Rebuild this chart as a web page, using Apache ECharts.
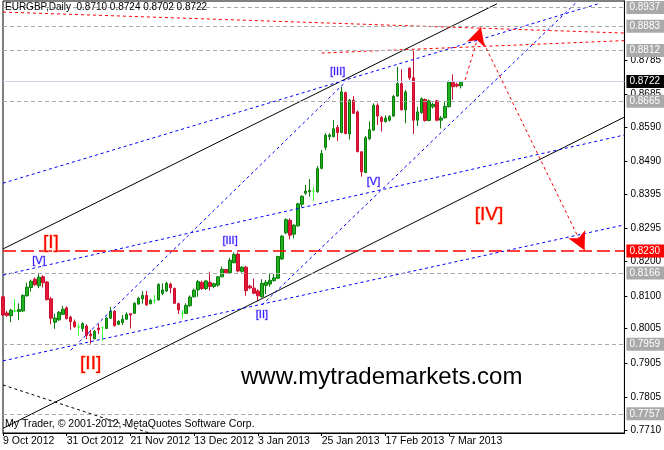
<!DOCTYPE html>
<html><head><meta charset="utf-8">
<script src="https://cdn.jsdelivr.net/npm/echarts@6/dist/echarts.min.js"></script>
<style>html,body{margin:0;padding:0;background:#fff}#c{width:664px;height:450px}</style>
</head><body><div id="c"></div>
<script>
const titleText = 'EURGBP,Daily  0.8710 0.8724 0.8702 0.8722';
const watermark = 'www.mytrademarkets.com';
const copyright = 'My Trader, \u00a9 2001-2012, MetaQuotes Software Corp.';
const tickLabels = ['9 Oct 2012','31 Oct 2012','21 Nov 2012','13 Dec 2012','3 Jan 2013','25 Jan 2013','17 Feb 2013','7 Mar 2013'];
const barsPerLabel = 16;
const slotCount = 157;

const opens = [.8097,.8050,.8042,.8056,.8054,.8056,.8100,.8124,.8148,.8129,.8155,.8140,.8091,.8023,.8030,.8046,.8065,.8038,.8024,.8009,
.8005,.8012,.7989,.7975,.8006,.8007,.8005,.8035,.8055,.8017,.8022,.8032,.8048,.8049,.8076,.8091,.8101,.8077,.8086,.8088,
.8107,.8114,.8134,.8121,.8077,.8049,.8049,.8071,.8097,.8117,.8139,.8121,.8139,.8127,.8131,.8155,.8176,.8167,.8196,.8221,
.8171,.8183,.8128,.8122,.8114,.8097,.8130,.8134,.8144,.8151,.8207,.8283,.8319,.8279,.8303,.8366,.8398,.8402,.8404,.8402,
.8470,.8531,.8562,.8562,.8589,.8574,.8690,.8570,.8668,.8634,.8518,.8458,.8556,.8581,.8653,.8618,.8606,.8610,.8622,.8680,
.8716,.8640,.8761,.8733,.8610,.8632,.8670,.8609,.8649,.8666,.8610,.8617,.8649,.8720,.8714,.8710];
const highs = [.8099,.8056,.8062,.8090,.8078,.8104,.8138,.8147,.8153,.8166,.8160,.8143,.8097,.8048,.8056,.8071,.8069,.8042,.8031,.8019,
.8023,.8017,.8001,.8001,.8018,.8010,.8039,.8068,.8058,.8029,.8044,.8052,.8049,.8081,.8097,.8114,.8114,.8091,.8102,.8136,
.8136,.8141,.8138,.8124,.8080,.8059,.8078,.8101,.8121,.8146,.8144,.8146,.8170,.8138,.8157,.8185,.8178,.8210,.8226,.8226,
.8185,.8187,.8132,.8150,.8119,.8148,.8146,.8163,.8163,.8216,.8276,.8325,.8325,.8308,.8370,.8392,.8422,.8439,.8417,.8477,
.8523,.8572,.8572,.8610,.8596,.8707,.8693,.8672,.8680,.8638,.8520,.8564,.8606,.8659,.8659,.8622,.8624,.8624,.8683,.8765,
.8758,.8698,.8763,.8812,.8649,.8676,.8673,.8670,.8661,.8669,.8622,.8664,.8725,.8743,.8719,.8724];
const lows = [.8041,.8039,.8023,.8052,.8029,.8053,.8097,.8112,.8129,.8122,.8124,.8086,.8017,.8004,.8027,.8044,.8031,.8001,.8007,.7984,
.7996,.7974,.7961,.7973,.7989,.7969,.8004,.8033,.8011,.8015,.8015,.8030,.8005,.8047,.8074,.8077,.8071,.8075,.8078,.8086,
.8102,.8111,.8107,.8076,.8047,.8034,.8047,.8068,.8095,.8097,.8117,.8117,.8115,.8122,.8126,.8154,.8165,.8165,.8194,.8168,
.8167,.8100,.8119,.8105,.8084,.8095,.8105,.8126,.8141,.8149,.8204,.8279,.8264,.8267,.8301,.8357,.8393,.8388,.8375,.8399,
.8467,.8523,.8552,.8560,.8550,.8572,.8569,.8554,.8628,.8516,.8446,.8456,.8552,.8579,.8596,.8577,.8603,.8606,.8620,.8678,
.8638,.8601,.8727,.8570,.8593,.8628,.8606,.8607,.8644,.8607,.8586,.8615,.8647,.8670,.8705,.8702];
const closes = [.8044,.8043,.8058,.8056,.8060,.8101,.8125,.8142,.8132,.8154,.8138,.8089,.8035,.8035,.8052,.8061,.8034,.8025,.8010,.8009,
.8019,.7985,.7984,.7997,.8001,.8007,.8035,.8055,.8013,.8026,.8032,.8046,.8044,.8078,.8093,.8101,.8073,.8087,.8086,.8133,
.8117,.8136,.8123,.8078,.8059,.8049,.8072,.8096,.8116,.8141,.8121,.8143,.8127,.8135,.8155,.8177,.8167,.8203,.8220,.8172,
.8183,.8115,.8123,.8107,.8100,.8136,.8139,.8145,.8152,.8214,.8273,.8321,.8276,.8305,.8367,.8389,.8404,.8406,.8404,.8469,
.8513,.8566,.8567,.8585,.8574,.8692,.8571,.8668,.8630,.8519,.8460,.8559,.8582,.8653,.8622,.8606,.8616,.8621,.8679,.8716,
.8640,.8692,.8733,.8610,.8634,.8672,.8609,.8666,.8656,.8610,.8616,.8650,.8721,.8707,.8709,.8722];

const yTickValues = [0.8785,0.8685,0.8590,0.8490,0.8395,0.8295,0.8200,0.8100,0.8005,0.7905,0.7805,0.7710];
const grayLevels = [0.8937,0.8883,0.8812,0.8665,0.8166,0.7959,0.7757];
const redLevel = 0.8230;
const bidLevel = 0.8722;
const yMin = 0.77014, yMax = 0.89561;

// trend lines: [barIndex, price] endpoints
const blackSolidLines = [[[0,0.8236],[124,0.8948]], [[0,0.7715],[156,0.8619]]];
const blackDashedLines = [[[0,0.7841],[40,0.7689]]];
const blueDashedLines = [
  [[0,0.8427],[150,0.8950]],
  [[0,0.8160],[156,0.8567]],
  [[0,0.7911],[156,0.8306]],
  [[17,0.7942],[86,0.8721]],
  [[65,0.8073],[144,0.8953]]
];
const redDottedLines = [[[0,0.8924],[156,0.8863]], [[80,0.8805],[156,0.8841]]];
const arrowLegs = [[[116,0.8727],[120,0.8880]], [[120,0.8850],[146,0.8232]]];

const redWaveLabels = [['[I]',12,0.8253],['[II]',22,0.7902],['[IV]',122,0.8335]];
const blueWaveLabels = [['[V]',9,0.8201],['[III]',57,0.8260],['[II]',65,0.8044],['[V]',93,0.8430],['[III]',84,0.8750]];

const FONT = 'Liberation Sans';
const categories = Array.from({length: slotCount}, (_, i) => String(i));
const candleData = opens.map((o, i) => [o, closes[i], lows[i], highs[i]]);
const isLabelSlot = i => i % barsPerLabel === 0 && (i / barsPerLabel) < tickLabels.length;

function lineSeries(lines, color, type, width) {
  return lines.map(pts => ({
    type: 'line', data: pts, showSymbol: false, symbol: 'none', silent: true, clip: true,
    lineStyle: {color, type, width}, z: 3, animation: false
  }));
}
function levelLine(v, lineColor, dash, boxColor, w) {
  return {
    yAxis: v,
    lineStyle: {color: lineColor, type: dash, width: w || 1},
    label: {show: true, position: 'end', distance: 2, formatter: () => v.toFixed(4),
      color: '#fff', backgroundColor: boxColor, padding: [2, 4, 1, 3],
      fontFamily: FONT, fontSize: 10}
  };
}
function waveSeries(items, color, size, border) {
  return {
    type: 'scatter', silent: true, symbol: 'circle', symbolSize: 1, itemStyle: {color: 'rgba(0,0,0,0)'}, z: 5, animation: false,
    data: items.map(d => ({name: d[0], value: [d[1], d[2]]})),
    label: {show: true, position: 'inside', formatter: '{b}', color, fontFamily: FONT, fontSize: size,
      textBorderColor: border, textBorderWidth: 1, opacity: 1}
  };
}

const chart = echarts.init(document.getElementById('c'), null, {renderer: 'canvas'});
chart.setOption({
  backgroundColor: '#fff',
  animation: false,
  grid: {left: 3, right: 38, top: 1, bottom: 17, show: true, borderColor: '#000', borderWidth: 1, backgroundColor: 'transparent'},
  xAxis: {
    type: 'category', data: categories, boundaryGap: false,
    axisLine: {show: true, lineStyle: {color: '#000'}},
    axisTick: {show: true, length: 3, interval: i => isLabelSlot(i), lineStyle: {color: '#000'}},
    axisLabel: {interval: i => isLabelSlot(i), formatter: (v, i) => isLabelSlot(i) ? tickLabels[i / barsPerLabel] : '',
      align: 'left', margin: 3, color: '#000', fontFamily: FONT, fontSize: 10.5},
    splitLine: {show: false}
  },
  yAxis: {
    type: 'value', position: 'right', min: yMin, max: yMax,
    axisLine: {show: true, lineStyle: {color: '#000'}},
    axisTick: {show: true, length: 3, customValues: yTickValues, lineStyle: {color: '#000'}},
    axisLabel: {customValues: yTickValues, formatter: v => v.toFixed(4), margin: 6, color: '#000', fontFamily: FONT, fontSize: 10},
    splitLine: {show: false}
  },
  graphic: [
    {type: 'text', left: 5, top: 2, style: {text: titleText, fill: '#000', font: '10px "' + FONT + '"'}, z: 10},
    {type: 'text', left: 241, top: 365, style: {text: watermark, fill: '#000', font: '24px "' + FONT + '"'}, z: 10},
    {type: 'text', left: 5, top: 419, style: {text: copyright, fill: '#000', font: '10.5px "' + FONT + '"'}, z: 10}
  ],
  series: [
    {
      type: 'candlestick', data: candleData, barWidth: 3, clip: true, z: 2,
      itemStyle: {color: '#1fb41f', color0: '#e8173a', borderColor: '#0a7a0a', borderColor0: '#c8102e', borderWidth: 1, borderColorDoji: '#33ff33'},
      markLine: {
        silent: true, symbol: ['none', 'none'], animation: false, precision: 6,
        data: grayLevels.map(v => levelLine(v, '#a8a8a8', [4, 3], '#a9a9a9'))
          .concat([levelLine(redLevel, '#ff0000', [13, 5], '#ff0000', 1.5), levelLine(bidLevel, '#d0d0f4', 'solid', '#000')])
      }
    },
    ...lineSeries(blackSolidLines, '#000', 'solid', 1),
    ...lineSeries(blackDashedLines, '#000', [3, 3], 1),
    ...lineSeries(blueDashedLines, '#0000ff', [3, 3], 1),
    ...lineSeries(redDottedLines, '#ff0000', [3, 3], 1),
    {
      type: 'line', data: [], silent: true, z: 4,
      markLine: {
        silent: true, animation: false, precision: 6, symbol: ['none', 'arrow'], symbolSize: [14, 18],
        lineStyle: {color: '#ff0000', type: [3, 3], width: 1},
        label: {show: false},
        data: arrowLegs.map(l => [{coord: l[0]}, {coord: l[1]}])
      }
    },
    waveSeries(redWaveLabels, '#ff0000', 19, '#ffb080'),
    waveSeries(blueWaveLabels, '#2020ff', 11, '#d8b8ff')
  ]
});
</script></body></html>
